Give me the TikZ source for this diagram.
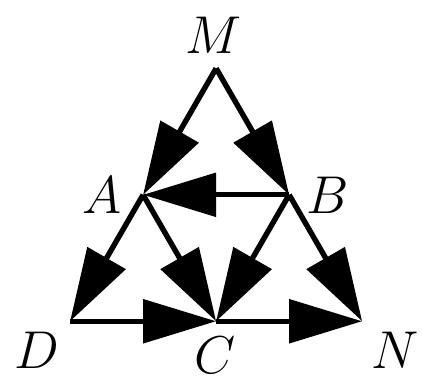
\documentclass[tikz,border=0pt]{standalone}
\usepackage{amsmath,amssymb}
\usetikzlibrary{arrows.meta}

\begin{document}
\begin{tikzpicture}[x=2cm,y=2cm, every node/.style={font=\huge}, >={Triangle[length=1cm, width=0.59cm]}, pt/.style={coordinate}, edge/.style={->, line width=2.1pt}]
	\useasboundingbox (-0.48,-0.41) rectangle (2.41,2.2);
	\node[pt] (D) at (0,0) {};
	\node[pt] (C) at (1,0) {};
	\node[pt] (N) at (2,0) {};
	\node[pt] (A) at (0.5,0.866) {};
	\node[pt] (B) at (1.5,0.866) {};
	\node[pt] (M) at (1,1.732) {};
	\node at (0.985,1.96) {$M$};
	\node at (0.22,0.865) {$A$};
	\node at (1.765,0.865) {$B$};
	\node at (-0.225,-0.2) {$D$};
	\node at (0.995,-0.235) {$C$};
	\node at (2.225,-0.2) {$N$};
	\foreach \a/\b in {M/A, M/B, B/A, A/D, A/C, B/C, B/N, D/C, C/N} {
		\draw[edge] (\a) -- (\b);
	}
	
\end{tikzpicture}
\end{document}
